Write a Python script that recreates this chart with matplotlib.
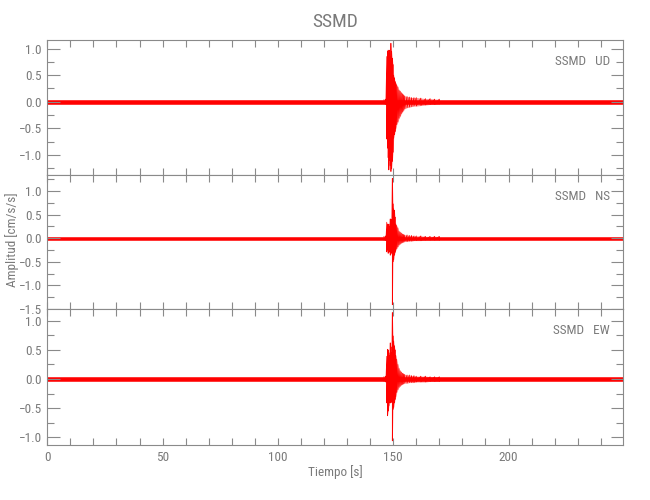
import matplotlib
matplotlib.use('Agg')
import matplotlib.pyplot as plt
from matplotlib.ticker import MultipleLocator, FuncFormatter

plt.rcParams['font.family'] = ['Roboto Condensed', 'Liberation Sans Narrow', 'DejaVu Sans']

# background noise: half-width of the trace band in 10 s blocks (cm/s/s)
noise_t = [0, 10, 20, 30, 40, 50, 60, 70, 80, 90, 100, 110, 120,
           130, 140, 150, 160, 170, 180, 190, 200, 210, 220, 230, 240, 250]
noise_ud = [0.033, 0.033, 0.033, 0.033, 0.033, 0.033, 0.033, 0.033, 0.033,
            0.033, 0.033, 0.033, 0.033, 0.033, 0.033, 0.040, 0.040, 0.038,
            0.036, 0.035, 0.035, 0.034, 0.034, 0.034, 0.034, 0.034]
noise_ns = [0.028, 0.028, 0.028, 0.028, 0.028, 0.028, 0.028, 0.028, 0.028,
            0.028, 0.028, 0.028, 0.028, 0.028, 0.028, 0.034, 0.034, 0.032,
            0.030, 0.029, 0.029, 0.028, 0.028, 0.028, 0.028, 0.028]
noise_ew = [0.030, 0.030, 0.030, 0.030, 0.030, 0.030, 0.030, 0.030, 0.030,
            0.030, 0.030, 0.030, 0.030, 0.030, 0.030, 0.036, 0.036, 0.034,
            0.032, 0.031, 0.031, 0.030, 0.030, 0.030, 0.030, 0.030]

# event: peak (up) and trough (lo)
t_evt = [146.0, 146.8, 147.2, 147.5, 147.8, 148.1, 148.4, 148.7, 149.0,
         149.3, 149.6, 149.9, 150.2, 150.5, 150.8, 151.1, 151.5, 152.0,
         152.5, 153.0, 153.5, 154.0, 154.5, 155.0, 156.0, 157.0, 158.0,
         159.0, 160.0, 162.0, 164.0, 166.0, 168.0, 170.0]
up_ud = [0.04, 0.05, 0.85, 0.94, 0.97, 0.90, 0.97, 0.85, 1.10, 0.95, 0.82,
         0.70, 0.50, 0.45, 0.38, 0.35, 0.32, 0.28, 0.22, 0.20, 0.17, 0.15,
         0.13, 0.11, 0.10, 0.09, 0.08, 0.08, 0.08, 0.07, 0.06, 0.06, 0.05, 0.05]
lo_ud = [-0.04, -0.05, -0.70, -0.87, -1.05, -1.28, -1.10, -1.20, -1.31,
         -1.25, -1.12, -0.95, -0.68, -0.62, -0.56, -0.50, -0.43, -0.38,
         -0.31, -0.27, -0.22, -0.19, -0.16, -0.13, -0.11, -0.10, -0.09,
         -0.08, -0.08, -0.07, -0.06, -0.05, -0.05, -0.04]
up_ns = [0.04, 0.05, 0.34, 0.30, 0.28, 0.30, 0.25, 0.41, 0.35, 0.40, 1.27,
         0.73, 0.62, 0.59, 0.45, 0.30, 0.27, 0.22, 0.15, 0.13, 0.11, 0.09,
         0.08, 0.07, 0.07, 0.06, 0.06, 0.05, 0.05, 0.05, 0.04, 0.04, 0.04, 0.04]
lo_ns = [-0.04, -0.05, -0.29, -0.25, -0.32, -0.30, -0.28, -0.36, -0.33,
         -0.30, -1.41, -0.50, -0.45, -0.36, -0.30, -0.25, -0.22, -0.18,
         -0.14, -0.12, -0.10, -0.09, -0.08, -0.07, -0.07, -0.06, -0.06,
         -0.05, -0.05, -0.05, -0.04, -0.04, -0.04, -0.04]
up_ew = [0.04, 0.05, 0.39, 0.51, 0.50, 0.45, 0.40, 0.62, 0.55, 0.45, 1.14,
         0.74, 0.65, 0.57, 0.50, 0.40, 0.34, 0.25, 0.18, 0.14, 0.12, 0.10,
         0.09, 0.08, 0.07, 0.07, 0.06, 0.06, 0.05, 0.05, 0.05, 0.04, 0.04, 0.04]
lo_ew = [-0.04, -0.05, -0.41, -0.63, -0.55, -0.46, -0.40, -0.41, -0.35,
         -0.40, -1.06, -0.52, -0.48, -0.41, -0.35, -0.30, -0.23, -0.18,
         -0.14, -0.12, -0.10, -0.09, -0.08, -0.07, -0.07, -0.06, -0.06,
         -0.06, -0.05, -0.05, -0.05, -0.04, -0.04, -0.04]

components = ['UD', 'NS', 'EW']
station = 'SSMD'
ylims = [(-1.375, 1.16), (-1.5, 1.34), (-1.13, 1.2)]

gray = '#8a8a8a'
txt = '#7a7a7a'

fig = plt.figure(figsize=(6.5, 5), dpi=100)
left, width = 0.0728, 0.8862
boxes = [(0.65, 0.27), (0.382, 0.268), (0.11, 0.272)]

noises = [noise_ud, noise_ns, noise_ew]
ups = [up_ud, up_ns, up_ew]
los = [lo_ud, lo_ns, lo_ew]

minus_fmt = FuncFormatter(lambda v, p: ('%.1f' % v).replace('-', '\u2212'))

for i in range(3):
    ax = fig.add_axes([left, boxes[i][0], width, boxes[i][1]])
    nz = noises[i]
    ax.fill_between(noise_t, [-a for a in nz], nz, step='post',
                    color='red', lw=0.4)
    # light envelope under the event, then a zigzag through the read peaks
    ax.fill_between(t_evt, los[i], ups[i], color='red', alpha=0.45, lw=0)
    xs, ys = [], []
    for t, u, l in zip(t_evt, ups[i], los[i]):
        xs += [t, t]
        ys += [u, l]
    ax.plot(xs, ys, color='red', lw=0.5)

    ax.set_xlim(0, 249.8)
    ax.set_ylim(*ylims[i])
    ax.xaxis.set_major_locator(MultipleLocator(50))
    ax.xaxis.set_minor_locator(MultipleLocator(10))
    ax.yaxis.set_major_locator(MultipleLocator(0.5))
    ax.yaxis.set_minor_locator(MultipleLocator(0.25))
    ax.yaxis.set_major_formatter(minus_fmt)
    ax.tick_params(axis='both', which='both', direction='in', top=True,
                   right=True, color=gray, labelcolor=txt, labelsize=9.5,
                   width=0.8, pad=4)
    ax.tick_params(axis='y', which='major', length=9)
    ax.tick_params(axis='y', which='minor', length=5)
    ax.tick_params(axis='x', which='both', length=5)
    for s in ax.spines.values():
        s.set_color(gray)
        s.set_linewidth(0.8)
    if i < 2:
        ax.tick_params(axis='x', labelbottom=False)
    else:
        ax.set_xlabel('Tiempo [s]', color=txt, fontsize=9.5, labelpad=1)
    ax.text(0.977, 0.84, station + '   ' + components[i], transform=ax.transAxes,
            ha='right', va='center', color=txt, fontsize=9.5)

fig.text(0.515, 0.956, station, ha='center', va='center', color=txt, fontsize=14)
fig.text(0.018, 0.52, 'Amplitud [cm/s/s]', rotation=90, ha='center',
         va='center', color=txt, fontsize=9.5)

fig.savefig('out.png', dpi=100)
